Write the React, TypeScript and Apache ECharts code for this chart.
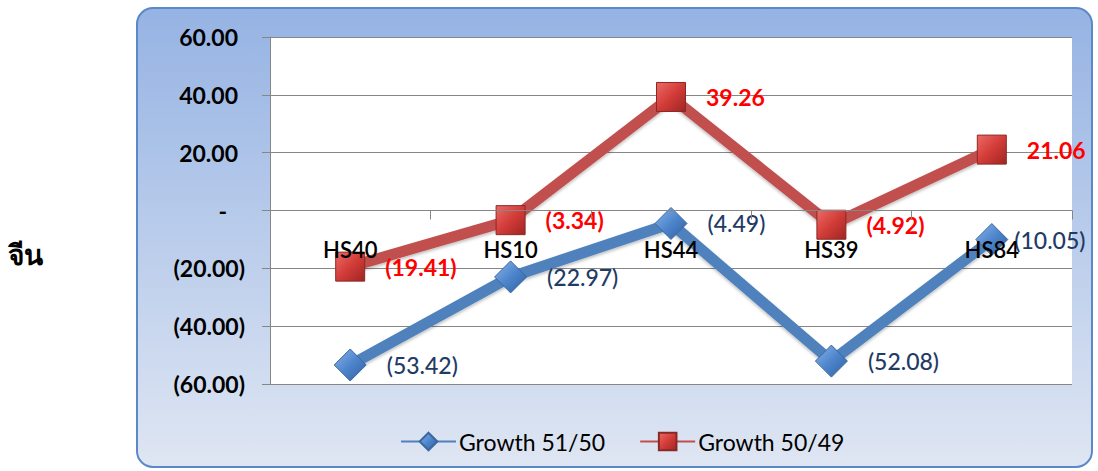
import React, { useEffect, useRef } from "react";
import * as echarts from "echarts";

const categories = ["HS40", "HS10", "HS44", "HS39", "HS84"];
const growth5150 = [-53.42, -22.97, -4.49, -52.08, -10.05];
const growth5049 = [-19.41, -3.34, 39.26, -4.92, 21.06];
const yTicks = { min: -60, max: 60, interval: 20 };
const seriesNames = ["Growth 51/50", "Growth 50/49"];
const sideLabel = "จีน";

const FONT = "Lato, 'Open Sans', sans-serif";
const GRID = { left: 270, top: 37, right: 26, bottom: 87 };
const GRID_H = 471 - GRID.top - GRID.bottom;

function fmt(v: number): string {
  if (v < 0) return `(${Math.abs(v).toFixed(2)})`;
  return v.toFixed(2);
}

export default function App() {
  const ref = useRef<HTMLDivElement>(null);
  useEffect(() => {
    document.body.style.margin = "0";
    const chart = echarts.init(ref.current!, null, { renderer: "svg" });
    const redGrad = new echarts.graphic.LinearGradient(0, 0, 1, 1, [
      { offset: 0, color: "#ec6a66" },
      { offset: 0.5, color: "#d23c38" },
      { offset: 1, color: "#9e2523" },
    ]);
    const blueGrad = new echarts.graphic.LinearGradient(0, 0, 1, 1, [
      { offset: 0, color: "#8db4e8" },
      { offset: 0.5, color: "#4d85cc" },
      { offset: 1, color: "#2f5f9e" },
    ]);
    // position of zero inside the value range, used to lift the category axis onto y = 0
    const zeroFrac = (0 - yTicks.min) / (yTicks.max - yTicks.min);
    chart.setOption({
      animation: false,
      graphic: [
        {
          type: "rect",
          z: -10,
          shape: { x: 137, y: 8, width: 955, height: 459, r: 16 },
          style: {
            fill: new echarts.graphic.LinearGradient(0, 0, 0, 1, [
              { offset: 0, color: "#95b3e3" },
              { offset: 1, color: "#dfe6f3" },
            ]),
            stroke: "#5b88c8",
            lineWidth: 2,
          },
        },
        {
          type: "text",
          x: 8,
          y: 254,
          style: {
            text: sideLabel,
            fontSize: 28,
            fontWeight: "bold",
            fill: "#000",
            verticalAlign: "middle",
            fontFamily: "'Noto Sans', sans-serif",
          },
        },
      ],
      grid: {
        ...GRID,
        show: true,
        backgroundColor: "#ffffff",
        borderWidth: 0,
      },
      legend: {
        left: 395,
        top: 425,
        itemWidth: 55,
        itemHeight: 22,
        itemGap: 34,
        textStyle: { fontSize: 23, color: "#000", fontFamily: FONT, padding: [0, 0, 0, -2] },
        data: seriesNames,
      },
      xAxis: {
        type: "category",
        data: categories,
        z: 5,
        position: "bottom",
        offset: -GRID_H * zeroFrac,
        axisLine: { onZero: false, lineStyle: { color: "#868686", width: 1 } },
        axisTick: { show: true, length: 9, lineStyle: { color: "#868686" } },
        axisLabel: {
          margin: 28,
          fontSize: 22,
          fontWeight: 600,
          color: "#000",
          fontFamily: FONT,
        },
      },
      yAxis: {
        type: "value",
        min: yTicks.min,
        max: yTicks.max,
        interval: yTicks.interval,
        axisLine: { show: true, lineStyle: { color: "#868686" } },
        axisTick: { show: true, length: 8, lineStyle: { color: "#868686" } },
        splitLine: { show: true, lineStyle: { color: "#868686", width: 1 } },
        axisLabel: {
          margin: 25,
          formatter: (v: number) => {
            if (v === 0) return "{z|-}";
            if (v > 0) return `{p|${v.toFixed(2)}}`;
            return `{n|${fmt(v)}}`;
          },
          rich: {
            p: { fontSize: 23, fontWeight: "bold", color: "#000", fontFamily: FONT, padding: [0, 7, 0, 0] },
            n: { fontSize: 23, fontWeight: "bold", color: "#000", fontFamily: FONT },
            z: { fontSize: 23, fontWeight: "bold", color: "#000", fontFamily: FONT, padding: [0, 18, 0, 0] },
          },
        },
      },
      series: [
        {
          name: seriesNames[0],
          type: "line",
          data: growth5150.map((v, i) =>
            i === growth5150.length - 1 ? { value: v, label: { distance: 6 } } : v
          ),
          symbol: "diamond",
          symbolSize: 32,
          lineStyle: {
            color: "#4f81bd",
            width: 11,
            shadowColor: "rgba(0,0,0,0.25)",
            shadowBlur: 3,
            shadowOffsetY: 2,
          },
          itemStyle: { color: blueGrad, borderColor: "#3a679f", borderWidth: 1 },
          label: {
            show: true,
            position: "right",
            distance: 20,
            formatter: (p: any) => fmt(p.value),
            color: "#1f3b66",
            fontSize: 23,
            fontWeight: 500,
            fontFamily: FONT,
          },
          z: 3,
        },
        {
          name: seriesNames[1],
          type: "line",
          data: growth5049,
          symbol: "rect",
          symbolSize: 29,
          lineStyle: {
            color: "#c0504d",
            width: 11,
            shadowColor: "rgba(0,0,0,0.25)",
            shadowBlur: 3,
            shadowOffsetY: 2,
          },
          itemStyle: { color: redGrad, borderColor: "#8a2826", borderWidth: 1 },
          label: {
            show: true,
            position: "right",
            distance: 20,
            formatter: (p: any) => fmt(p.value),
            color: "#ff0000",
            fontWeight: "bold",
            fontSize: 23,
            fontFamily: FONT,
          },
          z: 4,
        },
      ],
    });
    return () => chart.dispose();
  }, []);
  return <div ref={ref} style={{ width: 1098, height: 471 }} />;
}
